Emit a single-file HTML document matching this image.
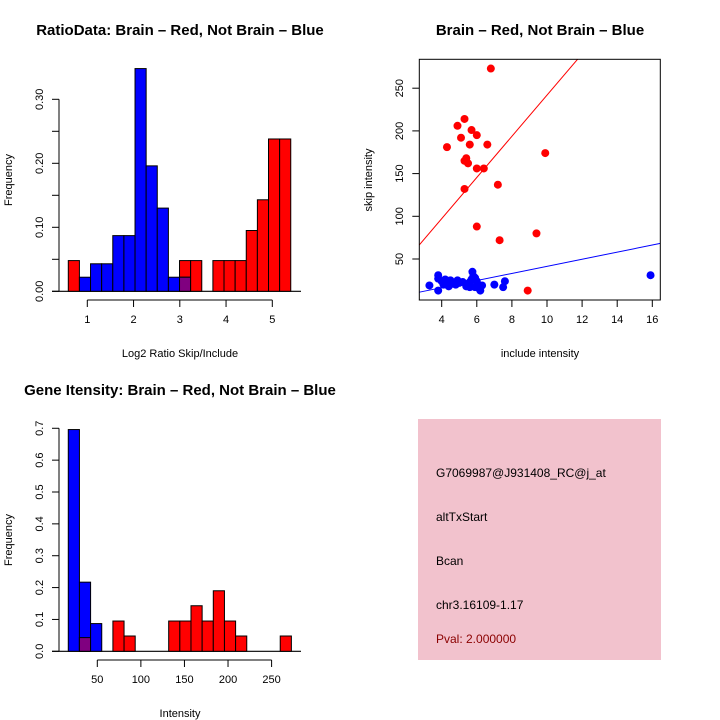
<!DOCTYPE html>
<html><head><meta charset="utf-8"><style>
body{margin:0;background:#fff}
svg{display:block;font-family:"Liberation Sans",sans-serif}
</style></head><body>
<svg id="c" width="720" height="720" viewBox="0 0 720 720" xmlns="http://www.w3.org/2000/svg">
<rect width="720" height="720" fill="#fff"/>
<g id="p1"></g>
<g id="p2"></g>
<g id="p3"></g>
<g>
<rect x="418" y="419" width="243" height="241" fill="#f2c2cd"/>
<text x="436" y="477" font-size="12">G7069987@J931408_RC@j_at</text>
<text x="436" y="521" font-size="12">altTxStart</text>
<text x="436" y="565" font-size="12">Bcan</text>
<text x="436" y="609" font-size="12">chr3.16109-1.17</text>
<text x="436" y="643" font-size="12" fill="#8b0000">Pval: 2.000000</text>
</g>
</svg>
<script>
// ---- Plot 1 data ----
const ratioRed = [0.048,0,0,0,0,0,0,0,0,0,0.048,0.048,0,0.048,0.048,0.048,0.095,0.143,0.238,0.238];
const ratioBlue = [0,0.022,0.043,0.043,0.087,0.087,0.348,0.196,0.13,0.022,0.022,0,0,0,0,0,0,0,0,0];
const ratioBinStart = 0.589, ratioBinWidth = 0.2405;
const ratioXTicks = [1,2,3,4,5];
const ratioYTicks = [0,0.05,0.10,0.15,0.20,0.25,0.30];
const ratioYLabels = ["0.00","0.10","0.20","0.30"];
// ---- Plot 2 data ----
const redX = [6.8,4.3,4.9,5.3,5.1,5.7,6.0,5.6,6.6,5.4,5.3,5.5,6.0,6.4,5.3,7.2,9.9,6.0,9.4,7.3,8.9];
const redY = [273,181,206,214,192,201,195,184,184,168,165,162,156,156,132,137,174,88,80,72,13];
const blueX = [3.3,3.8,3.8,3.8,4.0,4.1,4.2,4.3,4.4,4.5,4.6,4.8,4.9,5.0,5.2,5.4,5.5,5.6,5.7,5.75,5.8,5.9,6.0,6.0,6.1,6.2,6.3,5.6,5.9,7.0,7.5,7.6,15.9];
const blueY = [19,13,27,31,24,20,26,22,18,25,21,20,25,22,23,18,21,23,26,35,30,28,24,18,16,13,19,17,17,20,17,24,31];
const redFit = [0.9,24.1];
const blueFit = [-0.2,4.16];
const scatXTicks = [4,6,8,10,12,14,16];
const scatYTicks = [50,100,150,200,250];
// ---- Plot 3 data ----
const geneRed = [0,0.043,0,0,0.095,0.048,0,0,0,0.095,0.095,0.143,0.095,0.19,0.095,0.048,0,0,0,0.048];
const geneBlue = [0.696,0.217,0.087,0,0,0,0,0,0,0,0,0,0,0,0,0,0,0,0,0];
const geneBinStart = 16.7, geneBinWidth = 12.8;
const geneXTicks = [50,100,150,200,250];
const geneYTicks = [0,0.1,0.2,0.3,0.4,0.5,0.6,0.7];

const NS="http://www.w3.org/2000/svg";
function mk(parent,tag,attrs,text){const e=document.createElementNS(NS,tag);for(const k in attrs)e.setAttribute(k,attrs[k]);if(text!==undefined)e.textContent=text;parent.appendChild(e);return e;}

function histo(g,red,blue,start,w,sx,sy,baseY,xTicks,xAxisY,yTicks,yLabel,yFmt,title,titleX,titleY,xTitle,xTitleY){
  const y0=sy(0);
  mk(g,'line',{x1:52,y1:y0,x2:301,y2:y0,stroke:'#000','stroke-width':1.2});
  for(let i=0;i<red.length;i++){
    const a=sx(start+i*w), b=sx(start+(i+1)*w);
    const dr=(v,c,n)=>{const r=mk(g,'rect',{x:a,y:sy(v),width:b-a,height:y0-sy(v),fill:c,stroke:'#000','stroke-width':1});
      
      };
    if(red[i]>0) dr(red[i],'#ff0000','bar-red');
    if(blue[i]>0) dr(blue[i],'#0000ff','bar-blue');
    if(red[i]>0&&blue[i]>0){const m=Math.min(red[i],blue[i]);dr(m,'#800080','bar-overlap');}
  }
  const yt=yTicks.map(sy);
  mk(g,'line',{x1:59,y1:Math.min(...yt),x2:59,y2:Math.max(...yt),stroke:'#000'});
  yTicks.forEach((v,i)=>{mk(g,'line',{x1:52,y1:sy(v),x2:59,y2:sy(v),stroke:'#000'});
    const lab=yFmt(v,i); if(lab){const t=mk(g,'text',{x:0,y:0,'font-size':11,'text-anchor':'middle',transform:`translate(43,${sy(v)}) rotate(-90)`},lab);
    
    }});
  const xt=xTicks.map(sx);
  mk(g,'line',{x1:xt[0],y1:xAxisY,x2:xt[xt.length-1],y2:xAxisY,stroke:'#000'});
  xTicks.forEach(v=>{mk(g,'line',{x1:sx(v),y1:xAxisY,x2:sx(v),y2:xAxisY+7,stroke:'#000'});
    const t=mk(g,'text',{x:sx(v),y:xAxisY+23,'font-size':11,'text-anchor':'middle'},String(v));
    
    });
  const tt=mk(g,'text',{x:titleX,y:titleY,'font-size':15,'font-weight':'bold','text-anchor':'middle'},title);
  
  
  const xl=mk(g,'text',{x:180,y:xTitleY,'font-size':11,'text-anchor':'middle'},xTitle);
  
  
  const yl=mk(g,'text',{x:0,y:0,'font-size':11,'text-anchor':'middle',transform:`translate(12,${baseY}) rotate(-90)`},yLabel);
  
  
}
{
  const sx=v=>87.3+(v-1)*46.25, sy=v=>291.3-v*640;
  histo(document.getElementById('p1'),ratioRed,ratioBlue,ratioBinStart,ratioBinWidth,sx,sy,180,ratioXTicks,300,ratioYTicks,'Frequency',
    (v,i)=>i%2===0?ratioYLabels[i/2]:'', 'RatioData: Brain – Red, Not Brain – Blue',180,35,'Log2 Ratio Skip/Include',357);
}
{
  const sx=v=>97.3+(v-50)*0.8715, sy=v=>651.3-v*318.6;
  histo(document.getElementById('p3'),geneRed,geneBlue,geneBinStart,geneBinWidth,sx,sy,540,geneXTicks,660,geneYTicks,'Frequency',
    v=>v.toFixed(1), 'Gene Itensity: Brain – Red, Not Brain – Blue',180,395,'Intensity',717);
}
{
  const g=document.getElementById('p2');
  const L=419.3,R=660.3,T=59.3,B=300;
  const sx=v=>441.7+(v-4)*17.55, sy=v=>301.7-v*0.854;
  const cp=mk(g,'clipPath',{id:'clip2'});mk(cp,'rect',{x:L,y:T,width:R-L,height:B-T});
  const fitLine=(f,c,n)=>{const x1=(L-441.7)/17.55+4,x2=(R-441.7)/17.55+4;
    const l=mk(g,'line',{x1:sx(x1),y1:sy(f[0]+f[1]*x1),x2:sx(x2),y2:sy(f[0]+f[1]*x2),stroke:c,'clip-path':'url(#clip2)'});
    
    };
  fitLine(redFit,'#ff0000','red-fit-line');
  fitLine(blueFit,'#0000ff','blue-fit-line');
  redX.forEach((x,i)=>{const c=mk(g,'circle',{cx:sx(x),cy:sy(redY[i]),r:4,fill:'#ff0000'});
    
    });
  blueX.forEach((x,i)=>{const c=mk(g,'circle',{cx:sx(x),cy:sy(blueY[i]),r:4,fill:'#0000ff'});
    
    });
  mk(g,'rect',{x:L,y:T,width:R-L,height:B-T,fill:'none',stroke:'#000'});
  scatXTicks.forEach(v=>{mk(g,'line',{x1:sx(v),y1:B,x2:sx(v),y2:B+7,stroke:'#000'});
    const t=mk(g,'text',{x:sx(v),y:B+23,'font-size':11,'text-anchor':'middle'},String(v));
    
    });
  scatYTicks.forEach(v=>{mk(g,'line',{x1:L-7,y1:sy(v),x2:L,y2:sy(v),stroke:'#000'});
    const t=mk(g,'text',{x:0,y:0,'font-size':11,'text-anchor':'middle',transform:`translate(403,${sy(v)}) rotate(-90)`},String(v));
    
    });
  const tt=mk(g,'text',{x:540,y:35,'font-size':15,'font-weight':'bold','text-anchor':'middle'},'Brain – Red, Not Brain – Blue');
  
  
  const xl=mk(g,'text',{x:540,y:357,'font-size':11,'text-anchor':'middle'},'include intensity');
  
  
  const yl=mk(g,'text',{x:0,y:0,'font-size':11,'text-anchor':'middle',transform:'translate(372,180) rotate(-90)'},'skip intensity');
  
  
}
</script>
</body></html>
